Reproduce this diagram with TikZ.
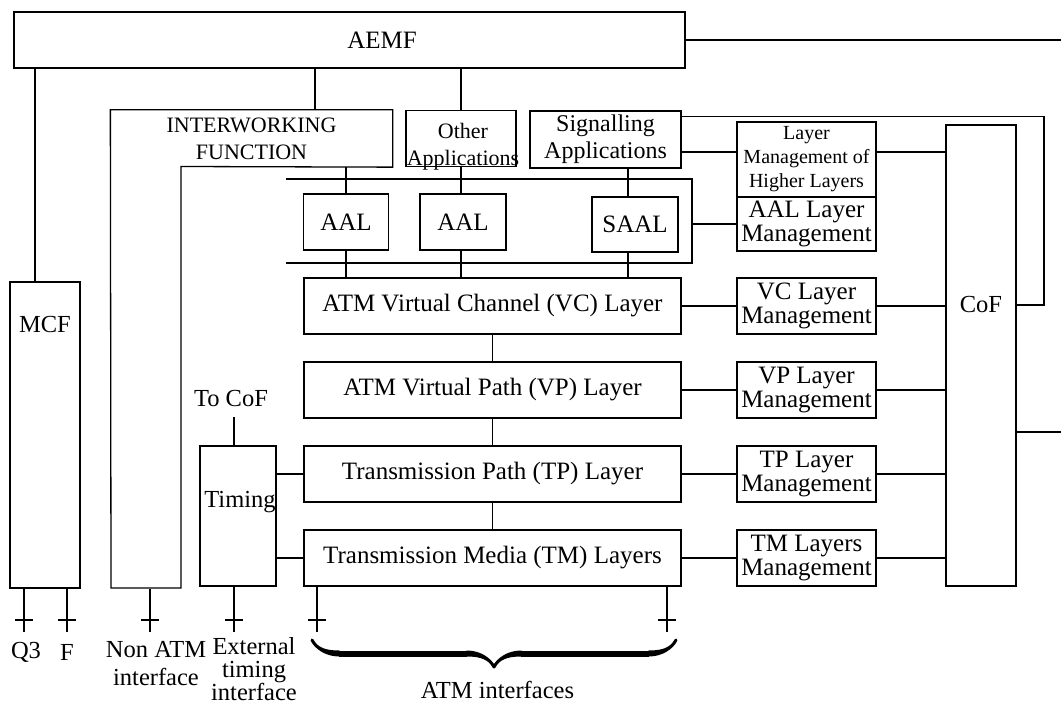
\documentclass[tikz,border=0pt]{standalone}
\usepackage{fontspec}
\setmainfont{Liberation Serif}
\usetikzlibrary{positioning, decorations.pathreplacing, calligraphy}

\begin{document}
\begin{tikzpicture}[x=1pt, y=-1pt, line width=1.3pt,
    box/.style={draw, inner sep=0pt, align=center, font=\fontsize{25}{24}\selectfont},
    lbl/.style={inner sep=0pt, align=center, font=\fontsize{24.5}{25}\selectfont},
    smalltxt/.style={font=\fontsize{22}{27}\selectfont}]
  \useasboundingbox (0,0) rectangle (1061,706);

  % top entity and left side
  \node[box, minimum width=671, minimum height=56] (aemf) at (349.5,40) {\hspace*{65pt}AEMF};
  \node[box, minimum width=70, minimum height=306, label={[lbl, anchor=center, yshift=-43pt]north:MCF}] (mcf) at (45,435) {};
  \node[lbl, smalltxt, minimum width=281, minimum height=56] (iwf) at (251.5,138.5) {INTERWORKING\\FUNCTION};
  \draw (iwf.north west) -- (iwf.north east) -- (iwf.south east) -- (181,166.5) -- (181,588) -- (111,588) -- cycle;

  % applications
  \node[box, minimum width=110, minimum height=56, label={[lbl, smalltxt, anchor=center, yshift=-37pt, xshift=2pt]north:Other\\Applications}] (other) at (461,138.5) {};
  \node[box, minimum width=151, minimum height=57, font=\fontsize{24}{27}\selectfont] (sig) at (605.5,139.5) {Signalling\\Applications};

  % adaptation layer
  \node[box, minimum width=85, minimum height=56] (aal1) at (346,222) {AAL};
  \node[box, minimum width=86, minimum height=56] (aal2) at (463,222) {AAL};
  \node[box, minimum width=86, minimum height=55] (saal) at (635,224.5) {SAAL};
  \coordinate (busr) at (692,224);
  \draw (286,179) -| (busr) |- (286,263);

  % ATM layers
  \node[box, minimum width=377, minimum height=56] (vc) at (492.5,306) {ATM Virtual Channel (VC) Layer};
  \node[box, minimum width=377, minimum height=56] (vp) at (492.5,390) {ATM Virtual Path (VP) Layer};
  \node[box, minimum width=377, minimum height=56] (tp) at (492.5,474) {Transmission Path (TP) Layer};
  \node[box, minimum width=377, minimum height=56] (tm) at (492.5,558) {Transmission Media (TM) Layers};

  % layer management
  \node[box, minimum width=139, minimum height=75, font=\fontsize{20}{24}\selectfont] (lmhl) at (806.5,159.5) {Layer\\Management of\\Higher Layers};
  \node[box, minimum width=139, minimum height=54] (aallm) at (806.5,224) {AAL Layer\\Management};
  \node[box, minimum width=139, minimum height=56] (vclm) at (806.5,306) {VC Layer\\Management};
  \node[box, minimum width=139, minimum height=56] (vplm) at (806.5,390) {VP Layer\\Management};
  \node[box, minimum width=139, minimum height=56] (tplm) at (806.5,474) {TP Layer\\Management};
  \node[box, minimum width=139, minimum height=56] (tmlm) at (806.5,558) {TM Layers\\Management};
  \node[box, minimum width=70, minimum height=461, label={[lbl, anchor=center, yshift=-180pt]north:CoF}] (cof) at (981,355.5) {};

  % timing
  \node[box, minimum width=76, minimum height=140, label={[lbl, anchor=center, yshift=-57pt, xshift=2pt]north:Timing}] (timing) at (238,516) {};
  \node[lbl, above=38pt of timing.north, xshift=-7pt] (tocof) {To CoF};

  % connections from AEMF
  \draw ([xshift=-10pt]mcf.north) -- ([xshift=-10pt]mcf.north |- aemf.south);
  \draw (aemf.south -| 315,0) -- (iwf.north -| 315,0);
  \draw (aemf.south -| other) -- (other.north);
  \coordinate (outtop) at (1061,40);
  \draw (aemf.east) -- (outtop);

  % down through the adaptation layer
  \draw (iwf.south -| aal1) -- (aal1.north);
  \draw (aal1.south) -- (aal1.south |- vc.north);
  \draw (other.south) -- (other.south |- aal2.north);
  \draw (aal2.south -| other) -- (other |- vc.north);
  \draw ([xshift=-7pt]saal.north) -- ([xshift=-7pt]saal.north |- sig.south);
  \draw ([xshift=-7pt]saal.south) -- ([xshift=-7pt]saal.south |- vc.north);
  \draw (vc) -- (vp);
  \draw (vp) -- (tp);
  \draw (tp) -- (tm);

  % management links
  \draw (sig.east |- 0,152) -- (lmhl.west |- 0,152);
  \draw (lmhl.east |- 0,152) -- (cof.west |- 0,152);
  \draw (busr) -- (aallm.west);
  \draw (vc) -- (vclm);
  \draw (vp) -- (vplm);
  \draw (tp) -- (tplm);
  \draw (tm) -- (tmlm);
  \draw (vclm) -- (vclm -| cof.west);
  \draw (vplm) -- (vplm -| cof.west);
  \draw (tplm) -- (tplm -| cof.west);
  \draw (tmlm) -- (tmlm -| cof.west);
  \draw ([yshift=-6pt]sig.north east) -| (1044,305) -- (cof.east |- 0,305);
  \coordinate (outmid) at (1061,432);
  \draw (cof.east |- outmid) -- (outmid);

  % timing links
  \draw ([xshift=-4pt]timing.north) -- ([xshift=-4pt, yshift=-10pt]timing.north |- tocof.south);
  \draw (timing.east |- tp) -- (tp);
  \draw (timing.east |- tm) -- (tm);

  % interfaces
  \coordinate (q3t) at (24,620);
  \coordinate (ft) at (67,620);
  \coordinate (nat) at (150,620);
  \coordinate (ett) at (234,620);
  \coordinate (at1) at (317,620);
  \coordinate (at2) at (667,620);
  \draw (mcf.south -| q3t) -- ([yshift=-12pt]q3t);
  \draw (mcf.south -| ft) -- ([yshift=-12pt]ft);
  \draw (mcf.south -| nat) -- ([yshift=-12pt]nat);
  \draw (timing.south -| ett) -- ([yshift=-12pt]ett);
  \draw (tm.south -| at1) -- ([yshift=-12pt]at1);
  \draw (tm.south -| at2) -- ([yshift=-12pt]at2);
  \foreach \t in {q3t, ft, nat, ett, at1, at2}
    \draw ([xshift=-9pt]\t) -- ([xshift=9pt]\t);

  \node[lbl] (q3) at (26,652) {Q3};
  \node[lbl] (f) at (67,652) {F};
  \node[lbl, font=\fontsize{24.5}{28}\selectfont] (nonatm) at (156,664) {Non ATM\\interface};
  \node[lbl, anchor=north, font=\fontsize{24.5}{23}\selectfont] (exttim) at (254,637) {External\\timing\\interface};
  \draw[decorate, decoration={calligraphic brace, amplitude=27pt, mirror}, line width=6pt] (312,640) -- (676,640);
  \node[lbl] (atmif) at (497.5,690) {ATM interfaces};
\end{tikzpicture}
\end{document}
